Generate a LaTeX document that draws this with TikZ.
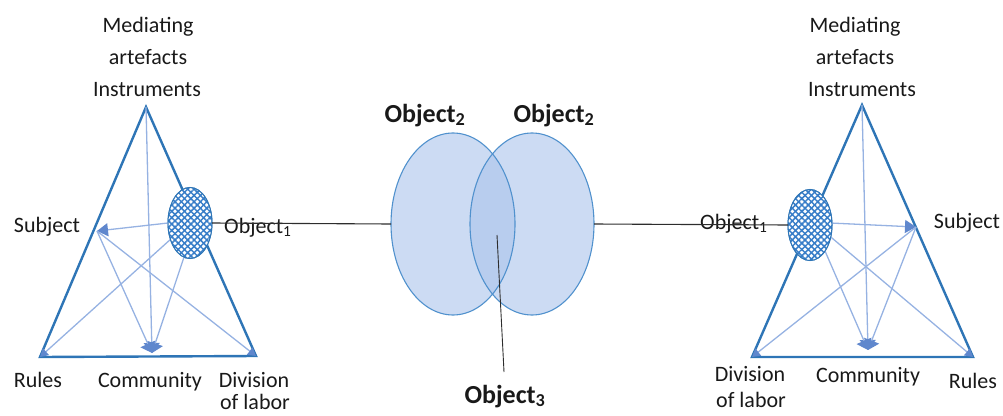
\documentclass[tikz,border=0pt]{standalone}
\usepackage{fontspec}
\setmainfont{Carlito}
\usetikzlibrary{arrows.meta,shapes.geometric,patterns.meta}
\definecolor{triblue}{RGB}{46,117,182}
\definecolor{linelight}{RGB}{150,178,226}
\definecolor{tipblue}{RGB}{95,135,205}
\definecolor{patblue}{RGB}{55,125,200}
\definecolor{bigstroke}{RGB}{80,145,205}
\definecolor{bigfill}{RGB}{170,195,235}
\definecolor{blackline}{RGB}{45,45,45}
\definecolor{txt}{RGB}{25,25,25}
\tikzset{
  tri/.style={draw=triblue, line width=2.4pt, line join=miter},
  inner/.style={draw=linelight, line width=1.3pt},
  tipS/.style={-{Triangle[length=11pt,width=13pt,color=tipblue]}},
  tipC/.style={-{Triangle[length=10pt,width=16pt,color=tipblue]}},
  tipV/.style={-{Triangle[length=8pt,width=9pt,color=tipblue]}},
  smallobj/.style={ellipse, draw=triblue, line width=1pt, inner sep=0pt, outer sep=0pt,
    minimum width=44pt, minimum height=71pt,
    preaction={fill=white},
    preaction={pattern={Lines[angle=45,distance=4.5pt,line width=1.5pt]}, pattern color=patblue},
    preaction={pattern={Lines[angle=-45,distance=4.5pt,line width=1.5pt]}, pattern color=patblue}},
  bigobj/.style={ellipse, inner sep=0pt, outer sep=0pt, minimum width=124pt, minimum height=182pt},
  conn/.style={draw=blackline, line width=1.1pt},
  lbl/.style={font=\fontsize{22}{24}\selectfont, text=txt, inner sep=0pt, anchor=base},
  blbl/.style={font=\fontsize{26}{28}\selectfont\bfseries, text=txt, inner sep=0pt, anchor=base},
}
\begin{document}
\begin{tikzpicture}[x=1pt,y=-1pt]
\useasboundingbox (0,0) rectangle (1003,415);
% ---------- left triangle ----------
\coordinate (A) at (146,107);
\coordinate (R) at (40,357);
\coordinate (D) at (256,356);
\coordinate (S) at (97,231);
\coordinate (C) at (152,353);
\draw[tri] (A) -- (R) -- (D) -- cycle;
\node[smallobj] (e1) at (190,223) {};
\draw[inner,tipC] (A) -- (C);
\draw[inner,tipS] (e1.west) -- (S);
\draw[inner,tipC] (S) -- (C);
\draw[inner,tipV] (S) -- (D);
\draw[inner,tipV] (e1.-140) -- (R);
\draw[inner,tipC] (e1.-100) -- (C);
\node[smallobj] (e1b) at (190,223) {};
% ---------- right triangle ----------
\coordinate (A2) at (862,105);
\coordinate (D2) at (752,357);
\coordinate (R2) at (973,357);
\coordinate (S2) at (916,227);
\coordinate (C2) at (868,350);
\draw[tri] (A2) -- (D2) -- (R2) -- cycle;
\draw[inner,tipC] (A2) -- (C2);
\node[smallobj] (e2) at (810,225) {};
\draw[inner,tipS] (e2.5) -- (S2);
\draw[inner,tipC] (e2.-60) -- (C2);
\draw[inner,tipV] (e2.-30) -- (R2);
\draw[inner,tipV] (S2) -- (D2);
\draw[inner,tipC] (S2) -- (C2);
\node[smallobj] (e2b) at (810,225) {};
% ---------- central ellipses ----------
\node[bigobj, fill=bigfill, fill opacity=0.6] (E1) at (453,224) {};
\node[bigobj, fill=bigfill, fill opacity=0.6] (E2) at (532,224) {};
\node[bigobj, draw=bigstroke, line width=1.1pt] (E1o) at (453,224) {};
\node[bigobj, draw=bigstroke, line width=1.1pt] (E2o) at (532,224) {};
% ---------- labels ----------
\node[lbl] (lmed) at (148,32) {Mediating};
\node[lbl] (lart) at (148,64) {artefacts};
\node[lbl] (lins) at (147,96) {Instruments};
\node[lbl] (lsub) at (47,232) {Subject};
\node[lbl] (lrul) at (38,387) {Rules};
\node[lbl] (lcom) at (150,387) {Community};
\node[lbl] (ldiv) at (254,387) {Division};
\node[lbl] (llab) at (255,409) {of labor};
\node[lbl, anchor=base west] (lob1) at (224,233) {Object\textsubscript{1}};
\node[lbl] (rmed) at (855,32) {Mediating};
\node[lbl] (rart) at (855,64) {artefacts};
\node[lbl] (rins) at (862,96) {Instruments};
\node[lbl] (rsub) at (967,228) {Subject};
\node[lbl] (rdiv) at (750,381) {Division};
\node[lbl] (rlab) at (751,407) {of labor};
\node[lbl] (rcom) at (868,382) {Community};
\node[lbl] (rrul) at (973,388) {Rules};
\node[lbl, anchor=base west] (rob1) at (700,229) {Object\textsubscript{1}};
\node[blbl] (ob2l) at (425,122) {Object\textsubscript{2}};
\node[blbl] (ob2r) at (554,122) {Object\textsubscript{2}};
\node[blbl] (ob3) at (505,403) {Object\textsubscript{3}};
% ---------- connectors ----------
\draw[conn] (e1.east) -- (E1.west);
\draw[conn] (E2.east) -- (e2.west);
\coordinate (o3p) at (497,235);
\coordinate (o3end) at (504,372);
\draw[draw=blackline, line width=0.9pt] (o3p) -- (o3end);
\end{tikzpicture}
\end{document}
